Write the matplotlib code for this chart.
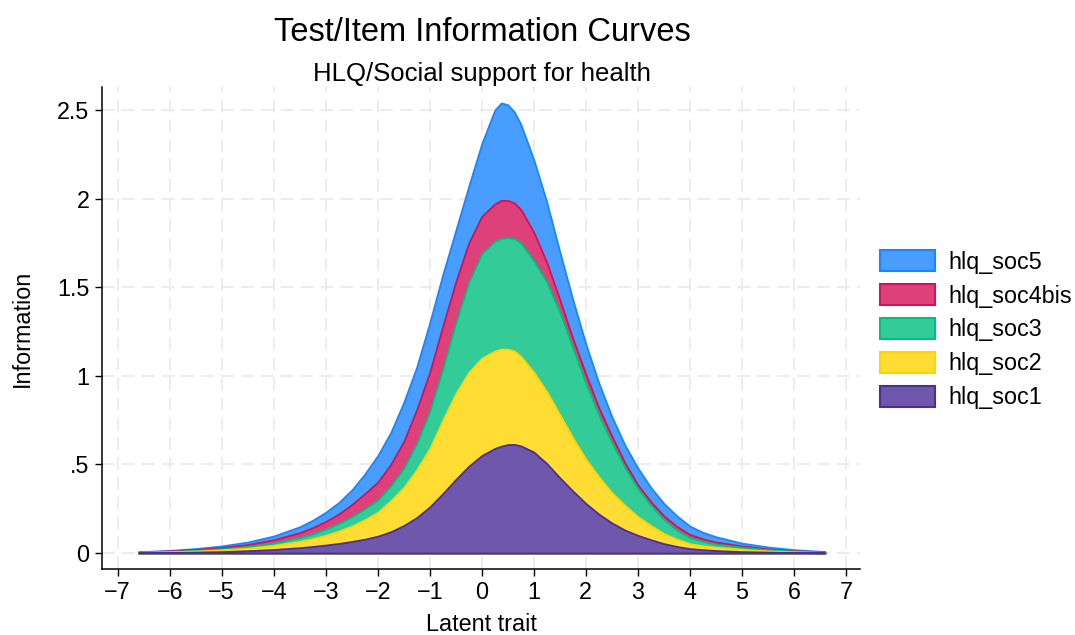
import numpy as np
import matplotlib
matplotlib.use("Agg")
import matplotlib.pyplot as plt
from matplotlib.patches import Patch
from matplotlib.colors import to_rgb

plt.rcParams['font.family'] = ['Liberation Sans', 'DejaVu Sans']

# latent trait grid and item information values
theta = [-6.6, -6, -5.5, -5, -4.5, -4, -3.5, -3.25,
         -3, -2.75, -2.5, -2.25, -2, -1.75, -1.5, -1.25, -1, -0.75,
         -0.5, -0.25, 0, 0.25, 0.375, 0.5, 0.625, 0.75, 1, 1.25, 1.5, 1.75,
         2, 2.25, 2.5, 2.75, 3, 3.25, 3.5, 3.75, 4, 4.25,
         4.5, 5, 5.5, 6, 6.6]

hlq_soc1 = [.002, .003, .005, .008, .013, .02, .03, .037,
            .045, .054, .065, .078, .095, .12, .155, .20, .26, .335,
            .415, .49, .55, .59, .603, .612, .613, .605, .57, .505, .425, .35,
            .28, .22, .17, .13, .10, .075, .053, .037, .025, .019,
            .014, .008, .005, .003, .001]
hlq_soc2 = [.002, .004, .006, .01, .015, .023, .036, .045,
            .055, .07, .087, .11, .135, .175, .215, .27, .33, .415,
            .485, .53, .55, .55, .549, .538, .527, .505, .45, .405, .355, .30,
            .25, .21, .17, .14, .105, .08, .057, .041, .028, .022,
            .019, .013, .007, .004, .002]
hlq_soc3 = [.001, .002, .004, .006, .009, .014, .022, .026,
            .035, .043, .053, .062, .07, .085, .11, .15, .21, .29,
            .40, .51, .59, .62, .623, .63, .635, .64, .63, .62, .58, .51,
            .43, .35, .285, .215, .16, .115, .08, .052, .034, .025,
            .017, .012, .007, .004, .002]
hlq_soc4bis = [.001, .003, .005, .007, .011, .018, .027, .035,
               .043, .053, .068, .085, .10, .12, .15, .19, .22, .24,
               .23, .22, .21, .21, .215, .21, .20, .19, .16, .11, .07, .05,
               .05, .04, .035, .025, .02, .02, .02, .02, .018, .014,
               .012, .007, .004, .002, .001]
hlq_soc5 = [.001, .003, .005, .009, .014, .021, .033, .042,
            .052, .065, .082, .11, .15, .18, .22, .24, .28, .29,
            .29, .32, .41, .53, .55, .54, .515, .48, .41, .34, .27, .22,
            .17, .14, .11, .10, .095, .08, .07, .06, .047, .037,
            .03, .016, .011, .006, .002]

item_names = ['hlq_soc1', 'hlq_soc2', 'hlq_soc3', 'hlq_soc4bis', 'hlq_soc5']
item_colors = ['#4B2E96', '#FFD400', '#00BF7F', '#D41159', '#1A85FF']

x_ticks = list(range(-7, 8))
y_ticks = [0, 0.5, 1, 1.5, 2, 2.5]
y_ticklabels = ['0', '.5', '1', '1.5', '2', '2.5']


def lighten(c, k=0.8):
    r = np.array(to_rgb(c))
    return tuple(k * r + (1 - k))


fig = plt.figure(figsize=(10.75, 6.35), dpi=100)
ax = fig.add_axes([0.0949, 0.104, 0.705, 0.759])

series = [hlq_soc1, hlq_soc2, hlq_soc3, hlq_soc4bis, hlq_soc5]
tops = np.cumsum(np.array(series), axis=0)

# draw like stata: each cumulative area from zero, biggest first
for i in range(len(series) - 1, -1, -1):
    ax.fill_between(theta, 0, tops[i], facecolor=lighten(item_colors[i]),
                    edgecolor=item_colors[i], linewidth=1.3, zorder=2)

ax.set_xlim(-7.3, 7.27)
ax.set_ylim(-0.09, 2.63)
ax.set_xticks(x_ticks)
ax.set_yticks(y_ticks)
ax.set_yticklabels(y_ticklabels)
ax.tick_params(direction='out', length=5, width=1, labelsize=16.8, pad=4)

ax.grid(True, color='#eaeaea', linestyle=(0, (7, 4)), linewidth=1.3, zorder=0)
ax.set_axisbelow(True)
for s in ['top', 'right']:
    ax.spines[s].set_visible(False)
for s in ['left', 'bottom']:
    ax.spines[s].set_linewidth(1.1)

ax.set_xlabel('Latent trait', fontsize=16.8, labelpad=6)
ax.set_ylabel('Information', fontsize=16.8, labelpad=17)

fig.text(0.4484, 0.949, 'Test/Item Information Curves', fontsize=23.5,
         ha='center', va='center')
fig.text(0.4484, 0.883, 'HLQ/Social support for health', fontsize=18.5,
         ha='center', va='center')

handles = [Patch(facecolor=lighten(c), edgecolor=c, linewidth=1.5) for c in item_colors]
ax.legend(handles[::-1], item_names[::-1], loc='upper left',
          bbox_to_anchor=(880 / 1075, 1 - 250 / 635), bbox_transform=fig.transFigure,
          frameon=False, fontsize=16.8, borderpad=0, borderaxespad=0,
          handlelength=2.36, handleheight=1.03, handletextpad=0.56, labelspacing=0.44)

fig.savefig('out.png', dpi=100)
